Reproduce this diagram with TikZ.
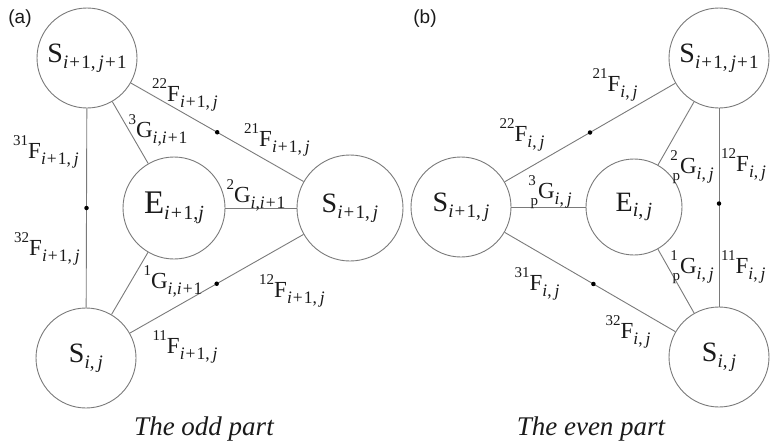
\documentclass[tikz,border=0pt]{standalone}
\usepackage{fontspec}
\setmainfont{Liberation Serif}
\newfontfamily\panelfont{Liberation Sans}
\definecolor{edgegray}{HTML}{7A7A7A}
\definecolor{inkc}{HTML}{1A1A1A}
\newcommand{\Iv}{\textit{i}}
\newcommand{\Jv}{\textit{j}}
\newcommand{\Pl}{\kern0.06em+\kern0.06em}
% big node labels
\newcommand{\Ssub}[1]{S\raisebox{-0.2em}{\fontsize{19}{19}\selectfont #1}}
\newcommand{\Esub}[1]{E\raisebox{-0.2em}{\fontsize{20}{20}\selectfont #1}}
% edge labels
\newcommand{\supl}[1]{\raisebox{0.58em}{\fontsize{15}{15}\selectfont #1}}
\newcommand{\subl}[1]{\raisebox{-0.25em}{\fontsize{17.5}{17.5}\selectfont #1}}
\newcommand{\presub}[2]{\rlap{\supl{#1}}\raisebox{-0.3em}{\fontsize{15}{15}\selectfont\kern0.15em #2}}
\begin{document}
\begin{tikzpicture}[x=1pt,y=-1pt,
  circ/.style={circle,draw=edgegray,line width=0.9pt,inner sep=0pt,text=inkc,font=\fontsize{28}{28}\selectfont},
  link/.style={draw=edgegray,line width=0.9pt},
  dotm/.style={circle,fill=black,inner sep=0pt,minimum size=4.5pt},
  elab/.style={inner sep=0pt,text=inkc,font=\fontsize{23}{23}\selectfont},
  capt/.style={inner sep=0pt,text=inkc,font=\fontsize{27}{27}\selectfont\itshape},
  panel/.style={inner sep=0pt,text=inkc,font=\fontsize{19}{19}\selectfont\panelfont}]
\useasboundingbox (0,0) rectangle (770,447);
\clip (0,0) rectangle (770,447);
% ---------- (a) odd part ----------
\node[panel] (pa) at (20,19) {(a)};
\node[circ,minimum size=100pt] (A1) at (87,58) {\Ssub{\Iv\Pl1,\,\Jv\Pl1}};
\node[circ,minimum size=102pt,font=\fontsize{33}{33}\selectfont] (E1) at (174,208) {\Esub{\Iv\Pl1,\Jv}};
\node[circ,minimum size=106pt] (B1) at (350,208) {\Ssub{\Iv\Pl1,\,\Jv}};
\node[circ,minimum size=100pt] (C1) at (86,358) {\Ssub{\Iv,\,\Jv}};
\draw[link] (A1) -- (C1) node[dotm,pos=0.5] (d1a) {};
\draw[link] (A1) -- (E1);
\draw[link] (A1) -- (B1) node[dotm,pos=0.5] (d1b) {};
\draw[link] (E1.east) -- (B1.west);
\draw[link] (E1) -- (C1);
\draw[link] (C1) -- (B1) node[dotm,pos=0.5] (d1c) {};
\node[elab] (l22a) at (185,95) {\supl{22}F\subl{\Iv\Pl1,\,\Jv}};
\node[elab] (l21a) at (277,140) {\supl{21}F\subl{\Iv\Pl1,\,\Jv}};
\node[elab] (l3a) at (158,130) {\supl{3}G\subl{\Iv,\Iv\Pl1}};
\node[elab] (l31a) at (46,152) {\supl{31}F\subl{\Iv\Pl1,\,\Jv}};
\node[elab] (l2a) at (256,195) {\supl{2}G\subl{\Iv,\Iv\Pl1}};
\node[elab] (l32a) at (47,249) {\supl{32}F\subl{\Iv\Pl1,\,\Jv}};
\node[elab] (l1a) at (173,281) {\supl{1}G\subl{\Iv,\Iv\Pl1}};
\node[elab] (l12a) at (292,291) {\supl{12}F\subl{\Iv\Pl1,\,\Jv}};
\node[elab] (l11a) at (185,347) {\supl{11}F\subl{\Iv\Pl1,\,\Jv}};
\node[capt] (ca) at (204,429) {The odd part};
% ---------- (b) even part ----------
\node[panel] (pb) at (425,19) {(b)};
\node[circ,minimum size=100pt] (A2) at (719,58) {\Ssub{\Iv\Pl1,\,\Jv\Pl1}};
\node[circ,minimum size=100pt] (B2) at (461,207) {\Ssub{\Iv\Pl1,\,\Jv}};
\node[circ,minimum size=96pt] (E2) at (634,207) {\Esub{\Iv,\,\Jv}};
\node[circ,minimum size=100pt] (C2) at (719,357) {\Ssub{\Iv,\,\Jv}};
\draw[link] (A2) -- (B2) node[dotm,pos=0.5] (d2a) {};
\draw[link] (A2) -- (E2);
\draw[link] (A2) -- (C2) node[dotm,pos=0.48] (d2b) {};
\draw[link] (B2.east) -- (E2.west);
\draw[link] (E2) -- (C2);
\draw[link] (B2) -- (C2) node[dotm,pos=0.52] (d2c) {};
\node[elab] (l21b) at (615,85) {\supl{21}F\subl{\Iv,\,\Jv}};
\node[elab] (l22b) at (522,135) {\supl{22}F\subl{\Iv,\,\Jv}};
\node[elab] (l3b) at (550,192) {\presub{3}{p}G\subl{\Iv,\,\Jv}};
\node[elab] (l2b) at (692,167) {\presub{2}{p}G\subl{\Iv,\,\Jv}};
\node[elab,anchor=west] (l12b) at (721,165) {\supl{12}F\subl{\Iv,\,\Jv}};
\node[elab] (l1b) at (692,267) {\presub{1}{p}G\subl{\Iv,\,\Jv}};
\node[elab,anchor=west] (l11b) at (721,267) {\supl{11}F\subl{\Iv,\,\Jv}};
\node[elab] (l31b) at (537,284) {\supl{31}F\subl{\Iv,\,\Jv}};
\node[elab] (l32b) at (628,332) {\supl{32}F\subl{\Iv,\,\Jv}};
\node[capt] (cb) at (591,429) {The even part};
\end{tikzpicture}
\end{document}
